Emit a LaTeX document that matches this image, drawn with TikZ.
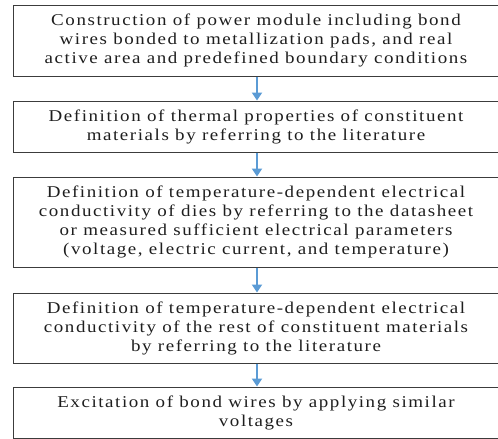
\documentclass[tikz,border=0pt]{standalone}
\usepackage{fontspec}
\setmainfont{Liberation Serif}[FakeStretch=1.15,LetterSpace=9.5]
\usetikzlibrary{arrows.meta}
\definecolor{arrowblue}{RGB}{91,155,213}
\definecolor{boxline}{RGB}{60,60,60}
\definecolor{textgray}{RGB}{30,30,30}
\tikzset{
  stepbox/.style={draw=boxline, line width=1pt, minimum width=486pt, align=center, inner sep=0pt,
    text=textgray, font=\fontsize{16.5pt}{19pt}\selectfont},
  flowarrow/.style={draw=arrowblue, line width=2pt, -{Triangle[width=10pt,length=8pt]}}
}
\begin{document}
\begin{tikzpicture}[x=1pt,y=1pt]
\useasboundingbox (0,0) rectangle (498,-439);
\clip (0,0) rectangle (498,-439);
\node[stepbox, minimum height=71pt] (b1) at (256,-40.5) {Construction of power module including bond\\wires bonded to metallization pads, and real\\active area and predefined boundary conditions};
\node[stepbox, minimum height=51pt] (b2) at (256,-126.5) {Definition of thermal properties of constituent\\materials by referring to the literature};
\node[stepbox, minimum height=90pt] (b3) at (256,-222) {Definition of temperature-dependent electrical\\conductivity of dies by referring to the datasheet\\or measured sufficient electrical parameters\\(voltage, electric current, and temperature)};
\node[stepbox, minimum height=70pt] (b4) at (256,-328) {Definition of temperature-dependent electrical\\conductivity of the rest of constituent materials\\by referring to the literature};
\node[stepbox, minimum height=51pt] (b5) at (256,-412.5) {Excitation of bond wires by applying similar\\voltages};
\draw[flowarrow] (b1.south) ++(1,0) coordinate (a1) -- (a1 |- b2.north);
\draw[flowarrow] (b2.south) ++(1,0) coordinate (a2) -- (a2 |- b3.north);
\draw[flowarrow] (b3.south) ++(1,0) coordinate (a3) -- (a3 |- b4.north);
\draw[flowarrow] (b4.south) ++(1,0) coordinate (a4) -- (a4 |- b5.north);
\end{tikzpicture}
\end{document}
